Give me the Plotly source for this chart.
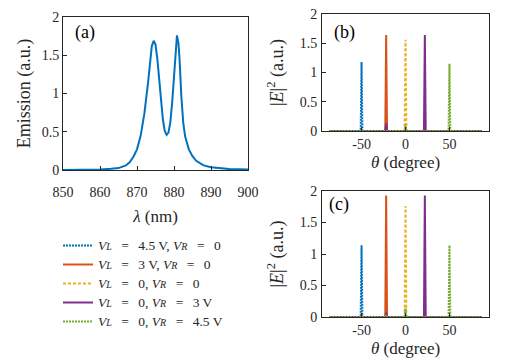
import plotly.graph_objects as go

# ---- data ----
WAVELENGTH = [850, 855, 860, 863, 865, 867, 868, 869, 870, 871, 872, 873, 873.5, 874,
              874.5, 875, 875.5, 876, 876.5, 877, 877.5, 878, 878.5, 879, 879.5, 880,
              880.5, 880.8, 881.2, 881.5, 882, 882.5, 883, 884, 885, 886, 888, 890, 895, 900]
EMISSION = [0.0, 0.002, 0.006, 0.015, 0.025, 0.06, 0.10, 0.17, 0.27, 0.45, 0.74, 1.15, 1.42,
            1.62, 1.69, 1.64, 1.45, 1.18, 0.90, 0.66, 0.51, 0.46, 0.49, 0.62, 0.88, 1.28,
            1.65, 1.76, 1.66, 1.45, 0.95, 0.62, 0.44, 0.27, 0.18, 0.12, 0.06, 0.035, 0.012, 0.005]

THETA = [-87, -51, -50, -49, -23, -22, -21, -1, 0, 1, 21, 22, 23, 49, 50, 51, 87]

# panel (b)
B_BLUE   = [0, 0, 1.18, 0, 0, 0, 0, 0, 0, 0, 0, 0, 0, 0, 0, 0, 0]
B_ORANGE = [0, 0, 0, 0, 0, 1.64, 0, 0, 0, 0, 0, 0, 0, 0, 0, 0, 0]
B_YELLOW = [0, 0, 0, 0, 0, 0, 0, 0, 1.56, 0, 0, 0, 0, 0, 0, 0, 0]
B_PURPLE = [0, 0, 0, 0, 0, 0.13, 0, 0, 0, 0, 0, 1.64, 0, 0, 0, 0, 0]
B_GREEN  = [0, 0, 0, 0, 0, 0, 0, 0, 0.11, 0, 0, 0, 0, 0, 1.15, 0, 0]

# panel (c)
C_BLUE   = [0, 0, 1.14, 0, 0, 0, 0, 0, 0, 0, 0, 0, 0, 0, 0, 0, 0]
C_ORANGE = [0, 0, 0.03, 0, 0, 1.93, 0, 0, 0, 0, 0, 0, 0, 0, 0, 0, 0]
C_YELLOW = [0, 0, 0, 0, 0, 0, 0, 0, 1.76, 0, 0, 0, 0, 0, 0, 0, 0]
C_PURPLE = [0, 0, 0, 0, 0, 0.07, 0, 0, 0, 0, 0, 1.93, 0, 0, 0, 0, 0]
C_GREEN  = [0, 0, 0, 0, 0, 0.03, 0, 0, 0.14, 0, 0, 0, 0, 0, 1.14, 0, 0]

VL_VR = [("4.5 V", "0"), ("3 V", "0"), ("0", "0"), ("0", "3 V"), ("0", "4.5 V")]
COLORS = ["#0072BD", "#D95319", "#EDB120", "#7E2F8E", "#77AC30"]
DASHES = ["2px,1px", "solid", "3px,2px", "solid", "2px,1px"]

SP = "\u2002\u2009"


def sub(ch):
    return f"<span style='font-size:10px'>{ch}</span>"


# legend font kept small so rows pack tightly; the visible text size is set here
LABELS = [f"<span style='font-size:13.5px'><i>V{sub('L')}</i>{SP}={SP}{l}, "
          f"<i>V{sub('R')}</i>{SP}={SP}{r}</span>" for l, r in VL_VR]

FONT = "Liberation Serif, Times New Roman, serif"
AX = "#262626"
W, H = 514, 363

fig = go.Figure()

fig.add_trace(go.Scatter(x=WAVELENGTH, y=EMISSION, mode="lines", showlegend=False,
                         line=dict(color="#0072BD", width=2), xaxis="x", yaxis="y"))

for series, xa, ya, show in (
    ([B_BLUE, B_ORANGE, B_YELLOW, B_PURPLE, B_GREEN], "x2", "y2", True),
    ([C_BLUE, C_ORANGE, C_YELLOW, C_PURPLE, C_GREEN], "x3", "y3", False),
):
    for vals, lab, col, dash in zip(series, LABELS, COLORS, DASHES):
        fig.add_trace(go.Scatter(x=THETA, y=vals, mode="lines", name=lab, showlegend=show,
                                 line=dict(color=col, width=2, dash=dash),
                                 xaxis=xa, yaxis=ya))


def px_x(a, b):
    return [a / W, b / W]


def px_y(top, bottom):
    return [1 - bottom / H, 1 - top / H]


base = dict(showline=True, mirror=True, linecolor=AX, linewidth=1, ticks="inside",
            ticklen=4, tickcolor=AX, showgrid=False, zeroline=False, automargin=False,
            tickfont=dict(family=FONT, size=14, color=AX))
yticks = dict(tickvals=[0, 0.5, 1, 1.5, 2], ticktext=["0", "0.5", "1", "1.5", "2"])
thticks = dict(tickvals=[-50, 0, 50], ticktext=["-50", "0", "50"])
tfont = dict(family=FONT, size=18, color=AX)

fig.update_layout(
    width=W, height=H, margin=dict(l=0, r=0, t=0, b=0),
    paper_bgcolor="white", plot_bgcolor="white", template="none",
    xaxis=dict(base, domain=px_x(63, 248), range=[850, 900], anchor="y",
               tickvals=[850, 860, 870, 880, 890, 900], ticklabelstandoff=9,
               title=dict(text="<i>λ</i> (nm)", font=dict(tfont, size=17), standoff=11)),
    yaxis=dict(base, domain=px_y(17, 170), range=[0, 2], anchor="x", ticklabelstandoff=0,
               title=dict(text="Emission (a.u.)", font=tfont, standoff=6), **yticks),
    xaxis2=dict(base, domain=px_x(322, 489), range=[-95, 95], anchor="y2",
                ticklabelstandoff=0, **thticks,
                title=dict(text="<i>θ</i> (degree)", font=dict(tfont, size=17), standoff=5)),
    yaxis2=dict(base, domain=px_y(14, 131), range=[0, 2], anchor="x2", ticklabelstandoff=1,
                title=dict(text="|<i>E</i>|<sup>2</sup> (a.u.)", font=tfont, standoff=11),
                **yticks),
    xaxis3=dict(base, domain=px_x(322, 489), range=[-95, 95], anchor="y3",
                ticklabelstandoff=0, **thticks,
                title=dict(text="<i>θ</i> (degree)", font=dict(tfont, size=17), standoff=5)),
    yaxis3=dict(base, domain=px_y(191, 317), range=[0, 2], anchor="x3", ticklabelstandoff=1,
                title=dict(text="|<i>E</i>|<sup>2</sup> (a.u.)", font=tfont, standoff=11),
                **yticks),
    legend=dict(x=58 / W, y=1 - 231 / H, xanchor="left", yanchor="top",
                bgcolor="rgba(0,0,0,0)", font=dict(family=FONT, size=11, color=AX),
                itemwidth=30, tracegroupgap=0),
)

for xr, yr, xd, yd, txt in (("x", "y", 0.119, 0.9, "(a)"),
                            ("x2", "y2", 0.132, 0.838, "(b)"),
                            ("x3", "y3", 0.10, 0.895, "(c)")):
    fig.add_annotation(xref=f"{xr} domain", yref=f"{yr} domain", x=xd, y=yd, text=txt,
                       showarrow=False, xanchor="center", yanchor="middle",
                       font=dict(family=FONT, size=18, color="black"))

# browser default body margin would shift the 514x363 figure by 8px
fig.write_html("out.html", config={"displayModeBar": False},
               post_script="document.body.style.margin='0';")
